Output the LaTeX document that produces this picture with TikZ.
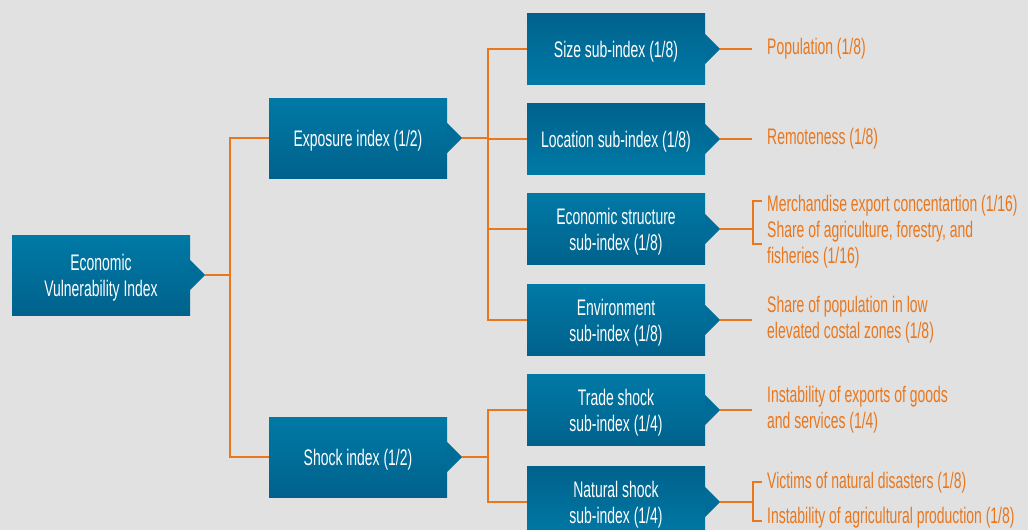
\documentclass[tikz,border=0pt]{standalone}
\usepackage{fontspec}
\setmainfont{Liberation Sans}[FakeStretch=0.62]
\usepackage{xcolor}
\usepackage{tikz}
\usetikzlibrary{positioning,calc}

\definecolor{bgGray}{HTML}{E1E1E1}
\definecolor{boxLight}{HTML}{0079A6}
\definecolor{boxDark}{HTML}{00628C}
\definecolor{boxMid}{HTML}{006D99}
\definecolor{linkOrange}{HTML}{E8771E}

\begin{document}
\begin{tikzpicture}[
    x=1pt, y=-1pt,
    box/.style={rectangle, minimum width=178pt, inner sep=2pt, text=white, align=center,
        text depth=0pt, font=\fontsize{22.5}{26}\selectfont, top color=boxLight, bottom color=boxDark},
    boxflip/.style={box, top color=boxDark, bottom color=boxLight},
    indexbox/.style={minimum height=80pt},
    subbox/.style={minimum height=71pt},
    leaf/.style={anchor=west, inner sep=0pt, align=left, text=linkOrange,
        font=\fontsize{22.5}{26}\selectfont},
    link/.style={draw=linkOrange, line width=2pt}
]

% Hintergrund
\fill[bgGray] (0,0) rectangle (1028,530);
\useasboundingbox (0,0) rectangle (1028,530);

% Hauptindex
\node[box, indexbox] (evi) at (101,275) {Economic\\Vulnerability Index};

% Indizes
\node[box, indexbox] (expo) at (358,138) {Exposure index (1/2)};
\node[box, indexbox] (shock) at (358,457) {Shock index (1/2)};

% Sub-Indizes
\node[boxflip, subbox] (size) at (616,49) {Size sub-index (1/8)};
\node[boxflip, subbox] (loc) at (616,139) {Location sub-index (1/8)};
\node[box, subbox] (econ) at (616,229) {Economic structure\\sub-index (1/8)};
\node[box, subbox] (env) at (616,320) {Environment\\sub-index (1/8)};
\node[box, subbox] (trade) at (616,410) {Trade shock\\sub-index (1/4)};
\node[boxflip, subbox] (nat) at (616,502) {Natural shock\\sub-index (1/4)};

% Spitzen an den Boxen
\foreach \n in {evi,expo,shock,size,loc,econ,env,trade,nat} {
    \fill[boxMid] ([yshift=15pt]\n.east) -- ([xshift=15pt]\n.east) -- ([yshift=-15pt]\n.east) -- cycle;
    \coordinate (\n-tip) at ([xshift=15pt]\n.east);
}

% Indikatoren
\node[leaf] (pop) at (767,49) {Population (1/8)};
\node[leaf] (remote) at (767,139) {Remoteness (1/8)};
\node[leaf] (merch) at (767,206) {Merchandise export concentartion (1/16)};
\node[leaf] (agri) at (767,245) {Share of agriculture, forestry, and\\fisheries (1/16)};
\node[leaf] (coast) at (767,320) {Share of population in low\\elevated costal zones (1/8)};
\node[leaf] (expt) at (767,410) {Instability of exports of goods\\and services (1/4)};
\node[leaf] (victim) at (767,483) {Victims of natural disasters (1/8)};
\node[leaf] (agprod) at (767,518) {Instability of agricultural production (1/8)};

% Verbindungen Hauptindex zu Indizes
\draw[link] (evi-tip) -- ++(25,0) |- (expo.west);
\draw[link] (evi-tip) -- ++(25,0) |- (shock.west);

% Verbindungen Indizes zu Sub-Indizes
\foreach \s in {size,loc,econ,env}
    \draw[link] (expo-tip) -- ++(26,0) |- (\s.west);
\foreach \s in {trade,nat}
    \draw[link] (shock-tip) -- ++(26,0) |- (\s.west);

% Verbindungen Sub-Indizes zu Indikatoren
\draw[link] (size-tip) -- ([xshift=-15pt]pop.west);
\draw[link] (loc-tip) -- ([xshift=-15pt]remote.west);
\draw[link] (env-tip) -- ([xshift=-15pt]coast.west);
\draw[link] (trade-tip) -- ([xshift=-15pt]expt.west);

\coordinate (econ-br) at ([xshift=33pt]econ-tip);
\draw[link] (econ-tip) -- (econ-br);
\draw[link] ([shift={(9,-28)}]econ-br) -- ++(-9,0) -- ++(0,43) -- ++(9,0);

\coordinate (nat-br) at ([xshift=33pt]nat-tip);
\draw[link] (nat-tip) -- (nat-br);
\draw[link] ([shift={(9,-20)}]nat-br) -- ++(-9,0) -- ++(0,39) -- ++(9,0);

\end{tikzpicture}
\end{document}
